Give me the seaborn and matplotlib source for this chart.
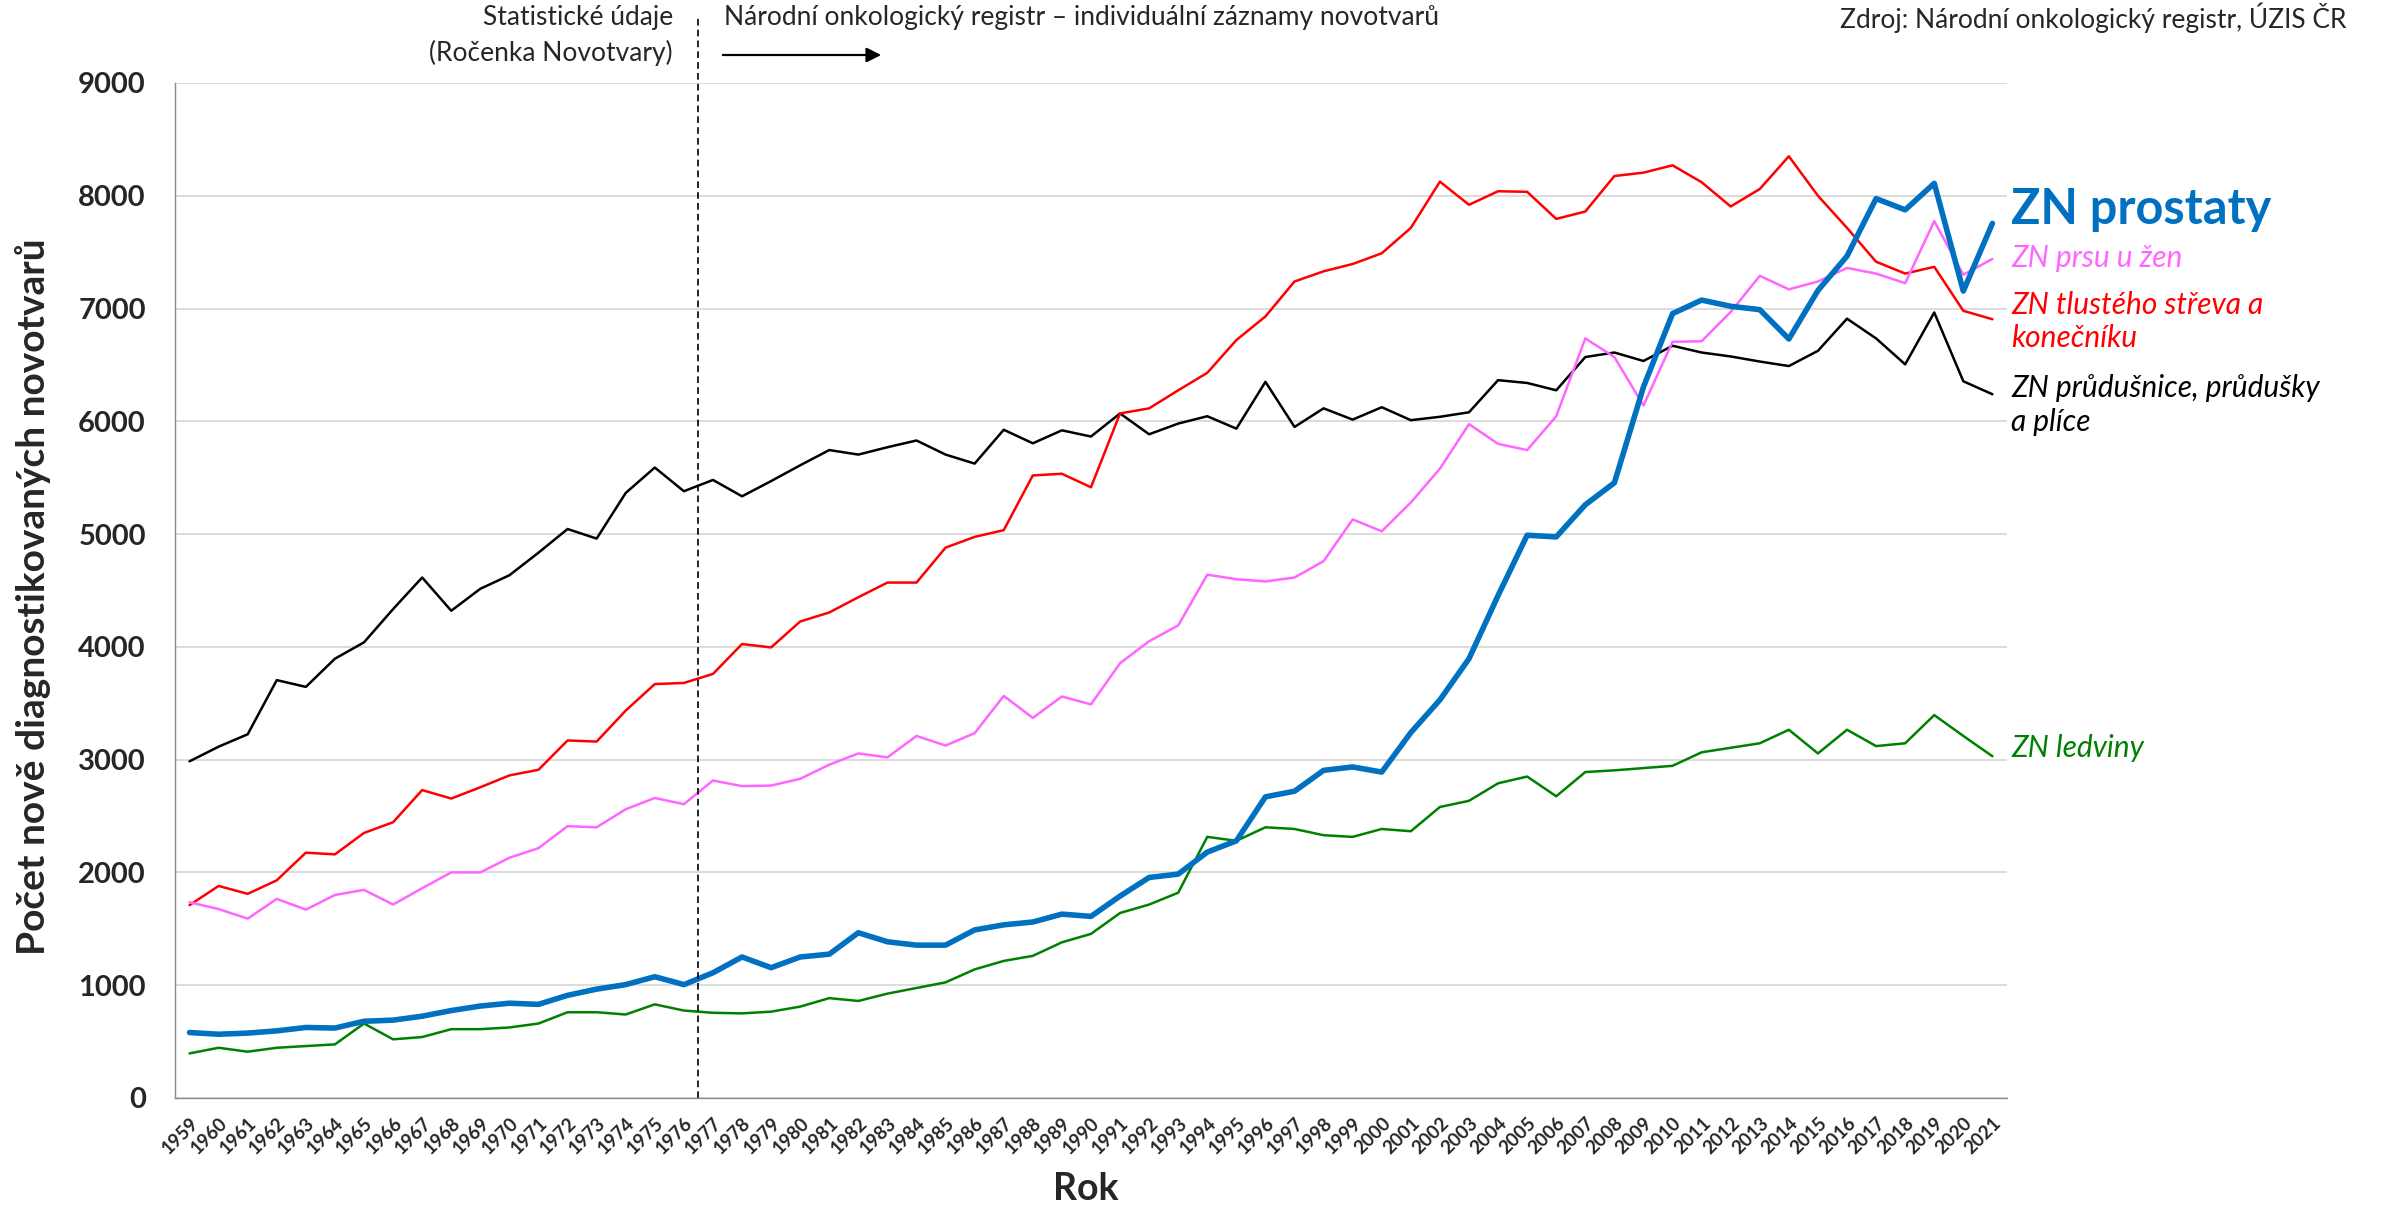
import numpy as np
import seaborn as sns
import matplotlib.pyplot as plt

# Years on the category axis
years = list(range(1959, 2022))

# New diagnoses per year
prostate = [580, 565, 575, 595, 625, 620, 680, 690, 725, 775,
            815, 840, 830, 910, 965, 1005, 1075, 1005, 1110, 1250,
            1155, 1250, 1275, 1465, 1385, 1355, 1355, 1490, 1535, 1560,
            1630, 1610, 1790, 1955, 1985, 2180, 2280, 2670, 2720, 2905,
            2935, 2890, 3240, 3530, 3895, 4455, 4990, 4975, 5260, 5455,
            6305, 6955, 7075, 7020, 6990, 6730, 7160, 7465, 7975, 7875,
            8110, 7155, 7755]
breast = [1735, 1675, 1590, 1765, 1670, 1800, 1845, 1715, 1860, 2000,
          2000, 2130, 2215, 2410, 2400, 2560, 2660, 2605, 2815, 2765,
          2770, 2830, 2955, 3055, 3020, 3210, 3125, 3235, 3565, 3370,
          3560, 3490, 3855, 4050, 4190, 4640, 4600, 4580, 4615, 4760,
          5130, 5025, 5280, 5580, 5975, 5800, 5745, 6045, 6735, 6570,
          6140, 6705, 6710, 6970, 7290, 7170, 7240, 7360, 7310, 7225,
          7775, 7300, 7440]
colorectal = [1710, 1880, 1810, 1930, 2175, 2160, 2350, 2445, 2730, 2655,
              2755, 2860, 2910, 3170, 3160, 3435, 3670, 3680, 3760, 4025,
              3995, 4225, 4305, 4440, 4570, 4570, 4880, 4975, 5035, 5520,
              5535, 5415, 6070, 6115, 6275, 6430, 6720, 6930, 7240, 7330,
              7395, 7490, 7715, 8125, 7920, 8040, 8035, 7795, 7860, 8175,
              8205, 8270, 8120, 7905, 8060, 8350, 8000, 7715, 7415, 7310,
              7370, 6980, 6905]
lung = [2985, 3115, 3225, 3705, 3645, 3895, 4040, 4335, 4615, 4320,
        4515, 4635, 4835, 5045, 4960, 5365, 5590, 5380, 5480, 5335,
        5470, 5610, 5745, 5705, 5770, 5830, 5705, 5625, 5925, 5805,
        5920, 5865, 6070, 5885, 5980, 6045, 5935, 6350, 5950, 6115,
        6015, 6125, 6010, 6040, 6080, 6365, 6340, 6275, 6570, 6610,
        6535, 6670, 6610, 6575, 6530, 6490, 6625, 6910, 6735, 6505,
        6965, 6355, 6240]
kidney = [395, 445, 410, 445, 460, 475, 660, 520, 540, 610,
          610, 625, 660, 760, 760, 740, 830, 775, 755, 750,
          765, 810, 885, 860, 925, 975, 1025, 1140, 1215, 1260,
          1380, 1455, 1640, 1715, 1820, 2315, 2280, 2400, 2385, 2330,
          2315, 2385, 2365, 2580, 2635, 2790, 2850, 2675, 2890, 2905,
          2925, 2945, 3065, 3105, 3145, 3265, 3055, 3265, 3120, 3145,
          3395, 3210, 3030]

sns.set_style("white")
plt.rcParams['font.family'] = ['Lato', 'DejaVu Sans']

fig = plt.figure(figsize=(23.81, 12.08), dpi=100)
ax = fig.add_axes([0.0735, 0.0911, 0.7694, 0.8402])

# thin lines first, prostate drawn on top
series = [
    (kidney, "#008000", 1.8),
    (lung, "black", 1.8),
    (colorectal, "#ff0000", 1.8),
    (breast, "#ff66ff", 1.8),
    (prostate, "#0070c0", 4.0),
]
for vals, col, lw in series:
    sns.lineplot(x=years, y=vals, color=col, linewidth=lw, ax=ax, legend=False)

ax.set_xlim(1958.5, 2021.5)
ax.set_ylim(0, 9000)
ax.set_yticks(range(0, 9001, 1000))
ax.set_xticks(years)
ax.set_xticklabels([str(y) for y in years], rotation=45, ha="right",
                   rotation_mode="anchor", fontsize=13.5, fontweight="bold")
ax.set_xticks(np.arange(1958.5, 2022, 1), minor=True)
ax.tick_params(axis="x", which="major", length=0, pad=12)
ax.tick_params(axis="x", which="minor", length=7, color="#8c8c8c", width=1)
ax.tick_params(axis="y", length=7, color="#8c8c8c", width=1, pad=14,
               labelsize=21)
for lab in ax.get_yticklabels():
    lab.set_fontweight("bold")

ax.yaxis.grid(True, color="#d9d9d9", linewidth=1.3)
ax.set_axisbelow(True)
for side in ["top", "right"]:
    ax.spines[side].set_visible(False)
for side in ["left", "bottom"]:
    ax.spines[side].set_color("#8c8c8c")
    ax.spines[side].set_linewidth(1)

ax.set_xlabel("")
ax.set_ylabel("")
fig.text(1086 / 2381, 1 - 1189 / 1208, "Rok", ha="center", va="center",
         fontsize=27, fontweight="bold")
fig.text(33 / 2381, 1 - 597 / 1208, "Počet nově diagnostikovaných novotvarů",
         rotation=90, ha="center", va="center", fontsize=28, fontweight="bold")

# boundary between yearbook data and the registry
ax.axvline(1976.5, ymin=0, ymax=1.064, color="black", lw=1.2,
           ls=(0, (4, 2.5)), clip_on=False)
fig.text(673 / 2381, 1 - 18 / 1208, "Statistické údaje", ha="right",
         va="center", fontsize=19)
fig.text(673 / 2381, 1 - 53 / 1208, "(Ročenka Novotvary)", ha="right",
         va="center", fontsize=19)
fig.text(724 / 2381, 1 - 18 / 1208,
         "Národní onkologický registr – individuální záznamy novotvarů",
         ha="left", va="center", fontsize=19)
ax.annotate("", xy=(884 / 2381, 1 - 55 / 1208), xytext=(720 / 2381, 1 - 55 / 1208),
            xycoords="figure fraction", textcoords="figure fraction",
            arrowprops=dict(arrowstyle="-|>", color="black", lw=1.6,
                            mutation_scale=22))
fig.text(2346 / 2381, 1 - 18 / 1208, "Zdroj: Národní onkologický registr, ÚZIS ČR",
         ha="right", va="center", fontsize=19)

# series labels at the right end
lx = 2021.65
ax.text(lx, 7750, "ZN prostaty", color="#0070c0", fontsize=35,
        fontweight="bold", va="baseline", clip_on=False)
ax.text(lx, 7367, "ZN prsu u žen", color="#ff66ff", fontsize=21.5,
        style="italic", va="baseline", clip_on=False)
ax.text(lx, 6950, "ZN tlustého střeva a", color="#ff0000", fontsize=21.5,
        style="italic", va="baseline", clip_on=False)
ax.text(lx, 6658, "konečníku", color="#ff0000", fontsize=21.5,
        style="italic", va="baseline", clip_on=False)
ax.text(lx, 6214, "ZN průdušnice, průdušky", color="black", fontsize=21.5,
        style="italic", va="baseline", clip_on=False)
ax.text(lx, 5913, "a plíce", color="black", fontsize=21.5,
        style="italic", va="baseline", clip_on=False)
ax.text(lx, 3023, "ZN ledviny", color="#008000", fontsize=21.5,
        style="italic", va="baseline", clip_on=False)

fig.savefig("out.png", dpi=100)
